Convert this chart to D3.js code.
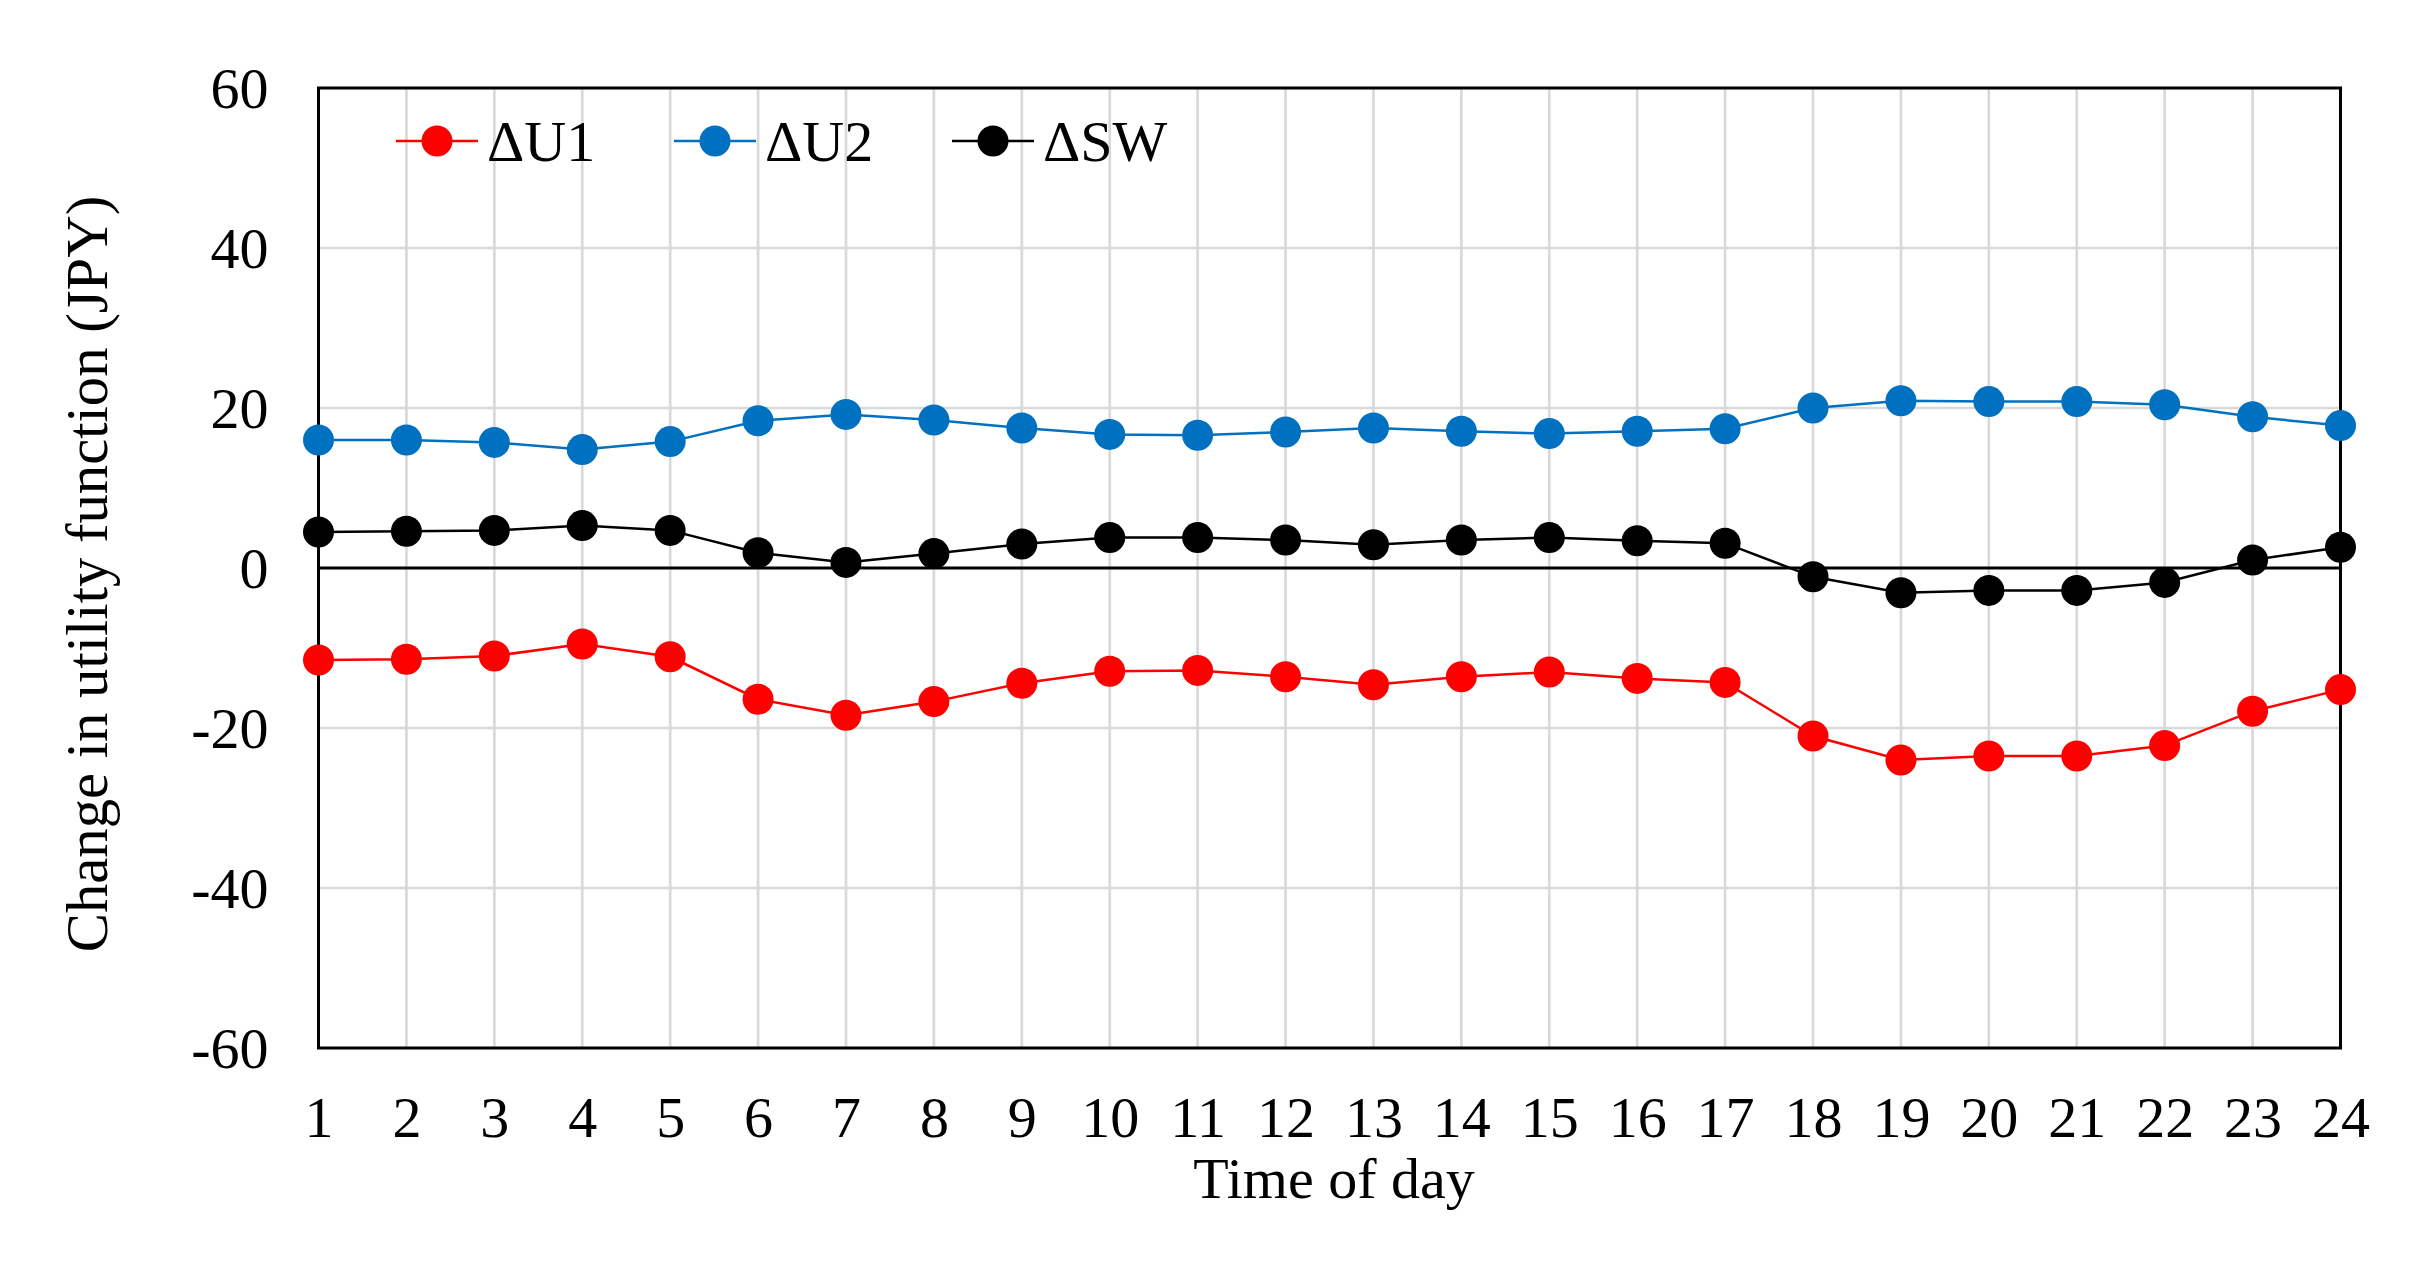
<!DOCTYPE html>
<html>
<head>
<meta charset="utf-8">
<script src="https://cdn.jsdelivr.net/npm/d3@7/dist/d3.min.js"></script>
<style>
  html, body { margin: 0; padding: 0; background: #fff; }
  svg { display: block; }
  text { font-family: "Liberation Serif", "Times New Roman", serif; fill: #000; }
</style>
</head>
<body>
<svg id="chart" width="2433" height="1269"></svg>
<script>
const hours = [1,2,3,4,5,6,7,8,9,10,11,12,13,14,15,16,17,18,19,20,21,22,23,24];
const dU1 = [-11.5,-11.4,-11.0,-9.5,-11.1,-16.4,-18.4,-16.7,-14.4,-12.9,-12.8,-13.6,-14.6,-13.6,-13.0,-13.8,-14.3,-21.0,-24.0,-23.5,-23.5,-22.2,-17.9,-15.2];
const dU2 = [16.0,16.0,15.7,14.8,15.8,18.4,19.2,18.5,17.5,16.7,16.6,17.0,17.5,17.1,16.8,17.1,17.4,20.0,20.9,20.8,20.8,20.4,18.9,17.8];
const dSW = [4.5,4.6,4.7,5.3,4.7,1.9,0.7,1.8,3.0,3.8,3.8,3.5,2.9,3.5,3.8,3.4,3.1,-1.1,-3.1,-2.8,-2.8,-1.8,1.0,2.6];
const yTicks = [-60,-40,-20,0,20,40,60];
const yTickLabels = ["-60","-40","-20","0","20","40","60"];
const seriesNames = ["\u0394U1","\u0394U2","\u0394SW"];
const seriesColors = ["#FF0000","#0070C0","#000000"];
const xTitle = "Time of day";
const yTitle = "Change in utility function (JPY)";

const svg = d3.select("#chart");
const L = 318.5, R = 2340.5, T = 88, B = 1048;
const x = d3.scaleLinear().domain([1,24]).range([L,R]);
const y = d3.scaleLinear().domain([-60,60]).range([B,T]);
const fontSize = 58;

// gridlines
const grid = svg.append("g");
grid.selectAll("line.v").data(hours.slice(1,-1)).join("line")
  .attr("x1", d=>x(d)).attr("x2", d=>x(d)).attr("y1", T).attr("y2", B)
  .attr("stroke", "#d9d9d9").attr("stroke-width", 2.7);
grid.selectAll("line.h").data(yTicks.filter(d=>d!==0 && Math.abs(d)!==60)).join("line")
  .attr("x1", L).attr("x2", R).attr("y1", d=>y(d)).attr("y2", d=>y(d))
  .attr("stroke", "#d9d9d9").attr("stroke-width", 2.7);

// zero line
svg.append("line").attr("x1", L).attr("x2", R).attr("y1", y(0)).attr("y2", y(0))
  .attr("stroke", "#000").attr("stroke-width", 3);

// border
svg.append("rect").attr("x", L).attr("y", T).attr("width", R-L).attr("height", B-T)
  .attr("fill", "none").attr("stroke", "#000").attr("stroke-width", 3);

// axes (labels only)
const yAxis = d3.axisLeft(y).tickValues(yTicks)
  .tickFormat((d,i)=>yTickLabels[i]).tickSize(0).tickPadding(50);
const gy = svg.append("g").attr("transform", `translate(${L},0)`).call(yAxis);
gy.select(".domain").remove();
gy.selectAll("text").style("font-family", '"Liberation Serif", "Times New Roman", serif')
  .style("font-size", fontSize + "px").attr("fill", "#000").attr("dy", "0.34em");

const xAxis = d3.axisBottom(x).tickValues(hours).tickFormat(d3.format("d")).tickSize(0).tickPadding(48);
const gx = svg.append("g").attr("transform", `translate(0,${B})`).call(xAxis);
gx.select(".domain").remove();
gx.selectAll("text").style("font-family", '"Liberation Serif", "Times New Roman", serif')
  .style("font-size", fontSize + "px").attr("fill", "#000").attr("dy", "0.71em");

// titles
svg.append("text").attr("x", 1334).attr("y", 1198).attr("text-anchor", "middle")
  .style("font-size", fontSize + "px").text(xTitle);
svg.append("text").attr("transform", `translate(107,574) rotate(-90)`)
  .attr("text-anchor", "middle").style("font-size", "58.7px").text(yTitle);

// series
const allSeries = [dU1, dU2, dSW];
const line = d3.line().x((d,i)=>x(hours[i])).y(d=>y(d));
allSeries.forEach((vals, k) => {
  svg.append("path").datum(vals).attr("d", line)
    .attr("fill", "none").attr("stroke", seriesColors[k]).attr("stroke-width", 2.5);
});
allSeries.forEach((vals, k) => {
  svg.append("g").selectAll("circle").data(vals).join("circle")
    .attr("cx", (d,i)=>x(hours[i])).attr("cy", d=>y(d)).attr("r", 15.5)
    .attr("fill", seriesColors[k]);
});

// legend
const lg = svg.append("g");
seriesNames.forEach((name, k) => {
  const cx = 437 + k*278, cy = 141;
  lg.append("line").attr("x1", cx-41).attr("x2", cx+41).attr("y1", cy).attr("y2", cy)
    .attr("stroke", seriesColors[k]).attr("stroke-width", 2.5);
  lg.append("circle").attr("cx", cx).attr("cy", cy).attr("r", 15.5).attr("fill", seriesColors[k]);
  lg.append("text").attr("x", cx+50).attr("y", cy).attr("dy", "0.35em")
    .style("font-size", fontSize + "px").text(name);
});
</script>
</body>
</html>
